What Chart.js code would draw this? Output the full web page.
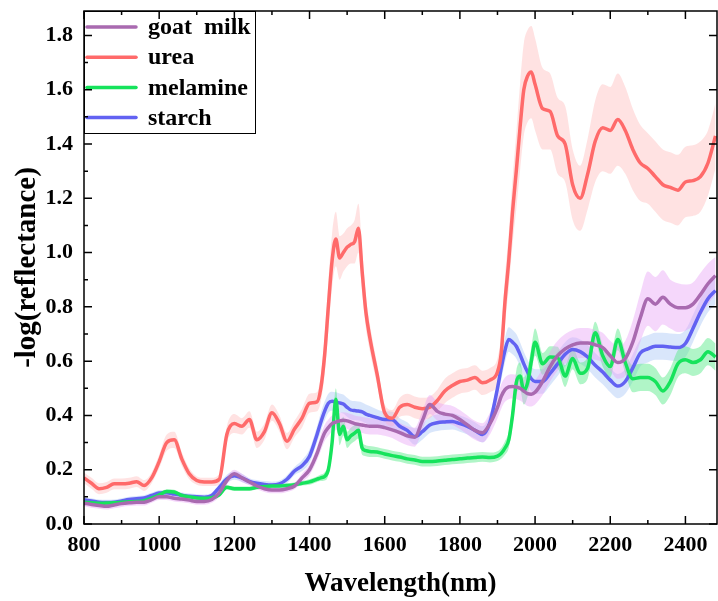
<!DOCTYPE html>
<html>
<head>
<meta charset="utf-8">
<title>NIR spectra</title>
<script src="https://cdn.jsdelivr.net/npm/chart.js@4.4.1/dist/chart.umd.min.js"></script>
<style>
  html, body { margin: 0; padding: 0; background: #fff; }
</style>
</head>
<body>
<canvas id="spectraChart" width="718" height="601"></canvas>
<script>
// Wavelengths (nm) - denser where the spectra change fast
const wl = [
  800, 820, 840, 860, 880, 900, 920, 940, 960, 980,
  1000, 1020, 1040, 1060, 1080, 1100, 1120, 1140, 1160, 1180,
  1200, 1220, 1240, 1260, 1280, 1300, 1320, 1340, 1360, 1380,
  1400, 1420,
  1430, 1440, 1450, 1460, 1470, 1480, 1490, 1500, 1510, 1520, 1530, 1540, 1550, 1560,
  1580, 1600, 1620, 1640, 1660, 1680, 1700, 1720, 1740, 1760, 1780, 1800, 1820, 1840, 1860, 1880, 1900,
  1910, 1920, 1930, 1940, 1950, 1960, 1970, 1980, 1990, 2000,
  2020, 2040, 2060, 2080, 2100, 2120, 2140, 2160, 2180, 2200, 2220, 2240,
  2260, 2280, 2300, 2320, 2340, 2360, 2380, 2400, 2420, 2440, 2460, 2480,
];

const seriesNames = ['goat  milk', 'urea', 'melamine', 'starch'];

// mean spectra
const goatMilk = [
  0.077, 0.072, 0.068, 0.065, 0.07, 0.075, 0.078, 0.08, 0.08, 0.09,
  0.1, 0.1, 0.095, 0.092, 0.088, 0.083, 0.083, 0.09, 0.115, 0.16,
  0.185, 0.17, 0.155, 0.14, 0.13, 0.125, 0.125, 0.13, 0.14, 0.17,
  0.2, 0.26,
  0.3, 0.335, 0.355, 0.37, 0.375, 0.38, 0.382, 0.38, 0.375, 0.37, 0.367, 0.365, 0.362, 0.36,
  0.36, 0.355, 0.347, 0.337, 0.325, 0.32, 0.38, 0.44, 0.415, 0.405, 0.4, 0.385, 0.365, 0.345, 0.336, 0.37, 0.43,
  0.47, 0.495, 0.505, 0.507, 0.505, 0.5, 0.49, 0.48, 0.478, 0.485,
  0.525, 0.58, 0.62, 0.645, 0.66, 0.667, 0.667, 0.66, 0.65, 0.62, 0.595, 0.61,
  0.67, 0.76, 0.83, 0.81, 0.835, 0.81, 0.797, 0.797, 0.81, 0.845, 0.885, 0.915,
];
const urea = [
  0.17, 0.15, 0.13, 0.135, 0.148, 0.148, 0.15, 0.156, 0.142, 0.17,
  0.23, 0.3, 0.31, 0.24, 0.185, 0.16, 0.155, 0.155, 0.165, 0.33,
  0.37, 0.36, 0.385, 0.31, 0.34, 0.41, 0.37, 0.305, 0.35, 0.39,
  0.445, 0.45,
  0.5, 0.62, 0.8, 0.97, 1.05, 0.98, 1.0, 1.02, 1.03, 1.04, 1.09, 0.93, 0.78, 0.69,
  0.55, 0.41, 0.39, 0.43, 0.44, 0.43, 0.425, 0.43, 0.455, 0.49, 0.51, 0.525, 0.53, 0.54, 0.52, 0.53, 0.56,
  0.63, 0.82, 0.97, 1.15, 1.3, 1.46, 1.6, 1.65, 1.665, 1.62,
  1.53, 1.52, 1.43, 1.4, 1.25, 1.2, 1.29, 1.41, 1.46, 1.45, 1.49, 1.45,
  1.38, 1.33, 1.31, 1.28, 1.25, 1.24, 1.23, 1.26, 1.265, 1.28, 1.33, 1.43,
];
const melamine = [
  0.08, 0.078, 0.076, 0.077, 0.078, 0.08, 0.082, 0.083, 0.086, 0.095,
  0.107, 0.12, 0.118, 0.105, 0.1, 0.096, 0.095, 0.097, 0.108, 0.135,
  0.13, 0.13, 0.13, 0.135, 0.138, 0.14, 0.14, 0.142, 0.145, 0.15,
  0.155, 0.165,
  0.17, 0.175, 0.2, 0.3, 0.46, 0.33, 0.36, 0.31, 0.325, 0.335, 0.345, 0.28, 0.27, 0.267,
  0.265, 0.258, 0.252, 0.247, 0.24, 0.236, 0.23, 0.23, 0.232, 0.235, 0.238, 0.24, 0.243, 0.245, 0.247, 0.245, 0.25,
  0.26, 0.28, 0.31, 0.4, 0.52, 0.545, 0.49, 0.52, 0.6, 0.67,
  0.59, 0.615, 0.613, 0.545, 0.61, 0.555, 0.575, 0.705, 0.62, 0.58, 0.68, 0.595,
  0.535, 0.54, 0.54, 0.525, 0.49, 0.525, 0.59, 0.605, 0.595, 0.605, 0.635, 0.615,
];
const starch = [
  0.089, 0.085, 0.08, 0.079, 0.08, 0.085, 0.09, 0.093, 0.096, 0.105,
  0.114, 0.115, 0.11, 0.106, 0.102, 0.1, 0.099, 0.105, 0.135, 0.166,
  0.178, 0.17, 0.157, 0.15, 0.146, 0.144, 0.148, 0.165, 0.195, 0.215,
  0.25, 0.33,
  0.375, 0.415, 0.445, 0.452, 0.45, 0.446, 0.442, 0.43, 0.42, 0.418, 0.416, 0.413, 0.405, 0.4,
  0.392, 0.385, 0.384, 0.36, 0.345, 0.322, 0.34, 0.365, 0.373, 0.376, 0.378, 0.37, 0.36, 0.345, 0.33, 0.375, 0.5,
  0.575, 0.64, 0.68, 0.67, 0.655, 0.625, 0.59, 0.56, 0.535, 0.525,
  0.525, 0.555, 0.59, 0.625, 0.643, 0.635, 0.615, 0.585, 0.56, 0.53, 0.508, 0.525,
  0.575, 0.63, 0.645, 0.655, 0.655, 0.652, 0.65, 0.665, 0.72, 0.78, 0.83, 0.86,
];

// standard deviation (half width of the shaded bands)
const goatMilkSd = [
  0.012, 0.012, 0.012, 0.012, 0.012, 0.012, 0.012, 0.012, 0.012, 0.012,
  0.012, 0.012, 0.012, 0.012, 0.012, 0.012, 0.012, 0.012, 0.015, 0.015,
  0.015, 0.015, 0.012, 0.012, 0.012, 0.012, 0.012, 0.012, 0.012, 0.015,
  0.02, 0.025,
  0.03, 0.03, 0.03, 0.03, 0.03, 0.03, 0.03, 0.03, 0.03, 0.03, 0.03, 0.03, 0.03, 0.03,
  0.03, 0.03, 0.03, 0.035, 0.035, 0.035, 0.035, 0.035, 0.035, 0.035, 0.035, 0.035, 0.035, 0.035, 0.035, 0.04, 0.04,
  0.045, 0.045, 0.045, 0.045, 0.045, 0.045, 0.045, 0.045, 0.045, 0.045,
  0.05, 0.055, 0.055, 0.055, 0.055, 0.055, 0.055, 0.055, 0.055, 0.055, 0.06, 0.065,
  0.08, 0.09, 0.1, 0.1, 0.1, 0.09, 0.09, 0.085, 0.08, 0.08, 0.075, 0.07,
];
const ureaSd = [
  0.02, 0.02, 0.02, 0.02, 0.02, 0.02, 0.02, 0.02, 0.02, 0.02,
  0.025, 0.03, 0.03, 0.025, 0.02, 0.015, 0.015, 0.015, 0.02, 0.03,
  0.035, 0.03, 0.03, 0.03, 0.03, 0.03, 0.03, 0.03, 0.03, 0.035,
  0.035, 0.035,
  0.05, 0.07, 0.09, 0.1, 0.1, 0.08, 0.07, 0.07, 0.07, 0.08, 0.09, 0.08, 0.06, 0.05,
  0.04, 0.03, 0.03, 0.035, 0.04, 0.04, 0.04, 0.04, 0.04, 0.045, 0.045, 0.045, 0.045, 0.045, 0.045, 0.045, 0.05,
  0.07, 0.09, 0.1, 0.12, 0.14, 0.16, 0.17, 0.17, 0.17, 0.17,
  0.15, 0.14, 0.14, 0.14, 0.13, 0.12, 0.13, 0.15, 0.16, 0.16, 0.17, 0.16,
  0.15, 0.14, 0.13, 0.13, 0.13, 0.13, 0.13, 0.13, 0.13, 0.13, 0.12, 0.12,
];
const melamineSd = [
  0.008, 0.008, 0.008, 0.008, 0.008, 0.008, 0.008, 0.008, 0.008, 0.008,
  0.008, 0.008, 0.008, 0.008, 0.008, 0.008, 0.008, 0.008, 0.008, 0.008,
  0.008, 0.008, 0.008, 0.008, 0.008, 0.008, 0.008, 0.008, 0.008, 0.008,
  0.01, 0.01,
  0.012, 0.015, 0.02, 0.03, 0.04, 0.04, 0.035, 0.03, 0.03, 0.03, 0.03, 0.025, 0.02, 0.02,
  0.018, 0.018, 0.018, 0.018, 0.018, 0.018, 0.018, 0.018, 0.018, 0.018, 0.018, 0.018, 0.018, 0.018, 0.018, 0.018, 0.018,
  0.02, 0.025, 0.03, 0.04, 0.045, 0.05, 0.05, 0.05, 0.05, 0.05,
  0.04, 0.04, 0.04, 0.04, 0.04, 0.04, 0.04, 0.04, 0.04, 0.04, 0.04, 0.04,
  0.05, 0.05, 0.05, 0.05, 0.05, 0.05, 0.05, 0.05, 0.05, 0.05, 0.05, 0.05,
];
const starchSd = [
  0.01, 0.01, 0.01, 0.01, 0.01, 0.01, 0.01, 0.01, 0.01, 0.01,
  0.01, 0.01, 0.01, 0.01, 0.01, 0.01, 0.01, 0.01, 0.012, 0.015,
  0.015, 0.015, 0.012, 0.012, 0.012, 0.012, 0.012, 0.015, 0.015, 0.02,
  0.025, 0.03,
  0.035, 0.035, 0.035, 0.035, 0.035, 0.035, 0.035, 0.035, 0.035, 0.035, 0.035, 0.035, 0.035, 0.035,
  0.03, 0.03, 0.03, 0.03, 0.03, 0.03, 0.03, 0.03, 0.03, 0.03, 0.03, 0.03, 0.03, 0.03, 0.03, 0.03, 0.03,
  0.045, 0.045, 0.045, 0.045, 0.045, 0.045, 0.045, 0.045, 0.045, 0.045,
  0.045, 0.045, 0.045, 0.045, 0.045, 0.045, 0.045, 0.045, 0.045, 0.045, 0.045, 0.045,
  0.05, 0.05, 0.05, 0.05, 0.05, 0.05, 0.05, 0.05, 0.05, 0.05, 0.05, 0.05,
];

// axis ranges / ticks
const xMin = 800;
const xMax = 2484;
const xStep = 200;
const yMin = 0;
const yMax = 1.89;
const yStep = 0.2;

const serif = '"Liberation Serif", "Times New Roman", serif';

const styles = [
  { line: '#A96AB0', band: 'rgba(232, 160, 245, 0.42)' }, // goat milk
  { line: '#FF6A6A', band: 'rgba(255, 185, 185, 0.42)' }, // urea
  { line: '#16E35C', band: 'rgba(80, 232, 130, 0.45)' }, // melamine
  { line: '#6262F2', band: 'rgba(165, 195, 245, 0.42)' }, // starch
];

const means = [goatMilk, urea, melamine, starch];
const sds = [goatMilkSd, ureaSd, melamineSd, starchSd];

const toPoints = (vals) => wl.map((w, i) => ({ x: w, y: vals[i] }));

// Build datasets: mean lines on top, +/- sd bands underneath
const lineSets = seriesNames.map((name, s) => ({
  label: name,
  data: toPoints(means[s]),
  borderColor: styles[s].line,
  borderWidth: 3.5,
  pointRadius: 0,
  cubicInterpolationMode: 'monotone',
  fill: false,
  order: 1,
}));

const bandSets = [];
seriesNames.forEach((name, s) => {
  const upper = means[s].map((v, i) => v + sds[s][i]);
  const lower = means[s].map((v, i) => v - sds[s][i]);
  bandSets.push({
    label: name + ' +sd',
    data: toPoints(upper),
    borderWidth: 0,
    pointRadius: 0,
    cubicInterpolationMode: 'monotone',
    fill: false,
    order: 2,
  });
  bandSets.push({
    label: name + ' -sd',
    data: toPoints(lower),
    borderWidth: 0,
    pointRadius: 0,
    cubicInterpolationMode: 'monotone',
    backgroundColor: styles[s].band,
    fill: '-1',
    order: 2,
  });
});

// Legend box in the top-left corner of the plot
const boxLegend = {
  id: 'boxLegend',
  afterDatasetsDraw(chart) {
    const { ctx, chartArea: { left, top } } = chart;
    ctx.save();
    ctx.fillStyle = '#fff';
    ctx.fillRect(left, top, 171, 122);
    ctx.strokeStyle = '#000';
    ctx.lineWidth = 1;
    ctx.strokeRect(left + 0.5, top + 0.5, 171, 122);
    ctx.font = 'bold 24px ' + serif;
    ctx.textBaseline = 'middle';
    seriesNames.forEach((name, i) => {
      const yy = top + 16 + i * 30.2;
      ctx.strokeStyle = styles[i].line;
      ctx.lineWidth = 3.5;
      ctx.lineCap = 'round';
      ctx.beginPath();
      ctx.moveTo(left + 3, yy);
      ctx.lineTo(left + 52, yy);
      ctx.stroke();
      ctx.fillStyle = '#000';
      ctx.fillText(name, left + 64, yy + 1);
    });
    ctx.restore();
  },
};

// Frame and inward tick marks on all four sides
const frameTicks = {
  id: 'frameTicks',
  afterDatasetsDraw(chart) {
    const { ctx, chartArea: { left, right, top, bottom }, scales: { x, y } } = chart;
    ctx.save();
    ctx.strokeStyle = '#000';
    ctx.lineWidth = 1.5;
    ctx.strokeRect(left, top, right - left, bottom - top);
    ctx.beginPath();
    for (let v = xMin; v <= xMax; v += xStep / 2) {
      const px = x.getPixelForValue(v);
      const len = (v - xMin) % xStep === 0 ? 8 : 4;
      ctx.moveTo(px, bottom);
      ctx.lineTo(px, bottom - len);
      ctx.moveTo(px, top);
      ctx.lineTo(px, top + len);
    }
    for (let i = 0; i * yStep / 2 <= yMax; i++) {
      const py = y.getPixelForValue(i * yStep / 2);
      const major = i % 2 === 0;
      ctx.moveTo(left, py);
      ctx.lineTo(left + (major ? 8 : 4), py);
      if (major) {
        ctx.moveTo(right, py);
        ctx.lineTo(right - 8, py);
      }
    }
    ctx.stroke();
    ctx.restore();
  },
};

const ctx = document.getElementById('spectraChart').getContext('2d');

const spectraChart = new Chart(ctx, {
  type: 'line',
  data: {
    datasets: [...lineSets, ...bandSets],
  },
  options: {
    responsive: false,
    animation: false,
    devicePixelRatio: 1,
    layout: {
      padding: { top: 11, right: 1, left: 0, bottom: 0 },
    },
    plugins: {
      legend: { display: false },
      tooltip: { enabled: false },
    },
    scales: {
      x: {
        type: 'linear',
        min: xMin,
        max: xMax,
        afterFit: (s) => {
          s.height = 77;
          s.paddingLeft = 0;
          s.paddingRight = 0;
        },
        grid: { display: false, drawTicks: false },
        border: { display: false },
        ticks: {
          stepSize: xStep,
          includeBounds: false,
          autoSkip: false,
          maxRotation: 0,
          padding: 8,
          color: '#000',
          font: { family: serif, size: 22, weight: 'bold' },
          callback: (v) => String(v),
        },
        title: {
          display: true,
          text: 'Wavelength(nm)',
          color: '#000',
          font: { family: serif, size: 27, weight: 'bold' },
          padding: { top: 0, bottom: 1 },
        },
      },
      y: {
        type: 'linear',
        min: yMin,
        max: yMax,
        afterFit: (s) => {
          s.width = 84;
          s.paddingTop = 0;
          s.paddingBottom = 0;
        },
        grid: { display: false, drawTicks: false },
        border: { display: false },
        ticks: {
          stepSize: yStep,
          includeBounds: false,
          padding: 11,
          color: '#000',
          font: { family: serif, size: 22, weight: 'bold' },
          callback: (v) => v.toFixed(1),
        },
        title: {
          display: true,
          text: '-log(reflectance)',
          color: '#000',
          font: { family: serif, size: 29, weight: 'bold' },
          padding: { top: 10, bottom: 0 },
        },
      },
    },
  },
  plugins: [boxLegend, frameTicks],
});
</script>
</body>
</html>
